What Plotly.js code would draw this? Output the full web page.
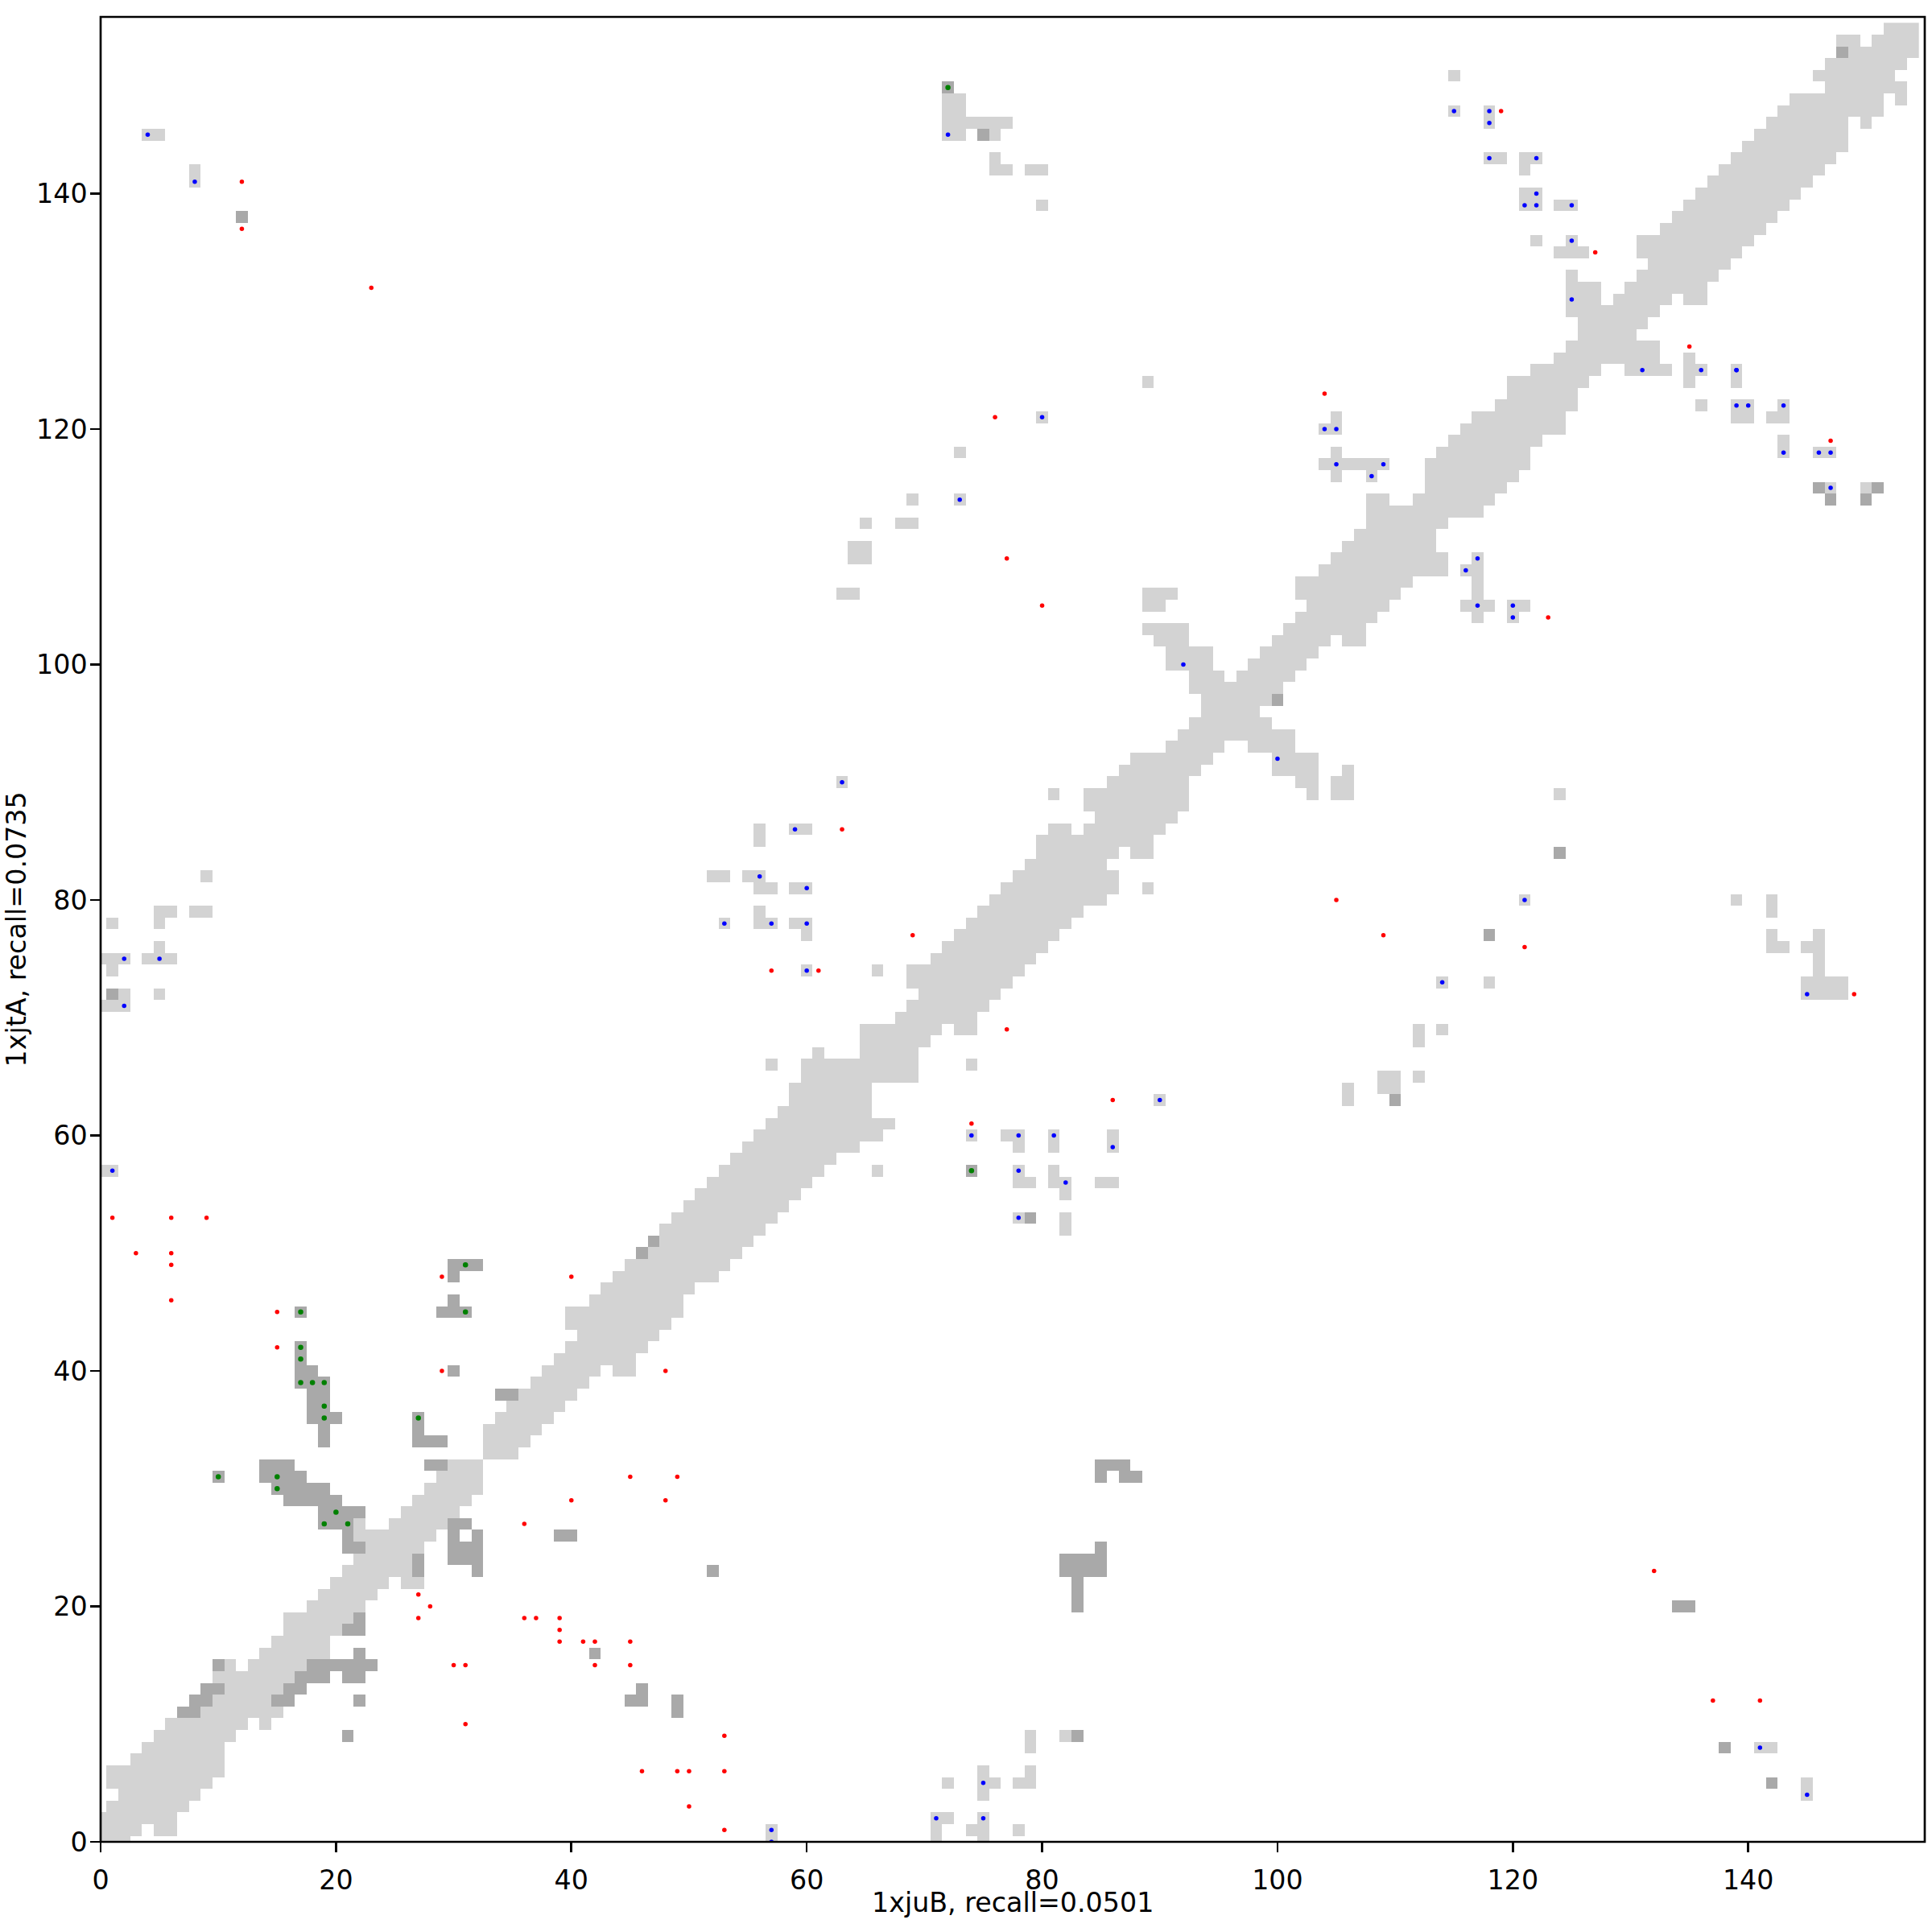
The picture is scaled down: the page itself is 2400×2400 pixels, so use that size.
<!DOCTYPE html>
<html>
<head>
<meta charset="utf-8">
<script src="https://cdn.plot.ly/plotly-3.0.1.min.js"></script>
<style>html,body{margin:0;padding:0;background:#fff}</style>
</head>
<body>
<div id="chart" style="width:2400px;height:2400px"></div>
<script>
const matrixSize = 155;
const xLabel = "1xjuB, recall=0.0501";
const yLabel = "1xjtA, recall=0.0735";
// each row: [residue row, start, end, start, end, ...]
const lightRuns = [
[0,0,2,57,57,71,71,75,75],[1,0,3,5,6,57,57,71,71,74,75,78,78],[2,0,6,71,72,75,75],[3,1,7],[4,2,8,75,75,145,145],
[5,1,9,72,72,75,76,78,79,145,145],[6,1,10,75,75,79,79],[7,3,10],[8,4,10,79,79,141,142],[9,5,11,79,79,82,82],
[10,6,12,14,14],[11,9,15],[12,10,14],[13,11,15],[14,10,16],[15,11,11,13,17],[16,14,19],[17,15,19],[18,16,20],[19,16,21],
[20,18,22],[21,19,23],[22,20,24,26,27],[23,21,26],[24,22,26],[25,23,27],[26,22,28],[27,22,22,25,29],[28,26,30],[29,27,31],
[30,28,32],[31,29,32],[32,30,32],[33,33,35],[34,33,36],[35,33,37],[36,34,38],[37,35,39],[38,36,40],[39,37,41],
[40,38,42,44,45],[41,39,45],[42,40,46],[43,41,47],[44,40,48],[45,40,49],[46,42,49],[47,43,50],[48,44,52],[49,45,53],
[50,47,54],[51,48,55],[52,48,56,82,82],[53,49,57,78,78,82,82],[54,50,58],[55,51,59,82,82],[56,52,60,78,79,81,82,85,86],
[57,0,1,53,61,66,66,78,78,81,81],[58,54,62],[59,55,64,78,78,81,81,86,86],[60,56,66,74,74,77,78,81,81,86,86],[61,57,67],
[62,58,65],[63,59,65,90,90,106,106],[64,59,65,106,106,109,110],[65,60,69,109,110,112,112],[66,57,57,60,69,74,74],
[67,61,61,65,69],[68,65,70,112,112],[69,65,71,73,74,112,112,114,114],[70,68,74],[71,0,2,69,75],
[72,2,2,5,5,70,76,145,148],[73,69,77,114,114,118,118,145,148],[74,1,1,60,60,66,66,69,78,146,146],
[75,0,2,4,6,71,79,146,146],[76,5,5,72,80,142,143,145,146],[77,60,60,73,81,142,142,146,146],
[78,1,1,5,5,53,53,56,57,59,60,74,82],[79,5,6,8,9,56,56,75,83,142,142],[80,76,85,121,121,139,139,142,142],
[81,56,57,59,60,77,86,89,89],[82,9,9,52,53,55,56,78,86],[83,79,85],[84,80,86,88,89],[85,56,56,80,89],
[86,56,56,59,60,81,82,84,90],[87,85,91],[88,84,92],[89,81,81,84,92,103,103,105,106,124,124],
[90,63,63,86,92,102,103,105,106],[91,87,93,100,103,106,106],[92,88,94,100,103],[93,91,95,98,101],[94,92,101],[95,93,99],
[96,94,98],[97,94,99],[98,93,100],[99,93,95,97,101],[100,91,94,98,102],[101,91,94,99,103],[102,90,92,100,104,106,107],
[103,89,92,101,107],[104,102,108,117,117,120,120],[105,89,90,103,109,116,118,120,121],[106,63,64,89,91,102,110,117,117],
[107,102,111,117,117],[108,104,114,116,117],[109,64,65,105,114,117,117],[110,64,65,106,113],[111,107,113],
[112,65,65,68,69,108,114],[113,108,117],[114,69,69,73,73,108,109,112,118],[115,113,119,147,147,150,150],
[116,105,105,108,108,113,120],[117,104,109,113,121],[118,73,73,105,105,114,121,143,143,146,147],[119,115,122,143,143],
[120,104,105,116,124],[121,80,80,105,105,117,124,139,140,142,143],[122,119,125,136,136,139,140,143,143],[123,120,125],
[124,89,89,120,126,135,135,139,139],[125,122,127,130,133,135,136,139,139],[126,124,132,135,135],[127,125,132],[128,126,130],
[129,126,131],[130,125,132],[131,125,127,129,133,135,136],[132,125,127,130,136],[133,125,125,131,137],[134,132,138],
[135,124,126,131,139],[136,122,122,125,125,131,140],[137,133,141],[138,134,142],[139,80,80,121,122,124,125,135,143],
[140,121,122,136,144],[141,8,8,137,145],[142,8,8,76,77,79,80,121,121,138,146],[143,76,76,118,119,121,122,139,147],
[144,140,148],[145,4,5,72,73,76,76,141,148],[146,72,77,118,118,142,148,150,150],[147,72,73,115,115,118,118,143,151],
[148,72,73,144,151,153,153],[149,147,153],[150,115,115,146,152],[151,147,153],[152,149,154],[153,148,149,151,154],[154,152,154]
];
const darkRuns = [
[5,142,142],[8,138,138],[9,21,21,83,83],[11,7,8,49,49],[12,8,9,15,16,22,22,45,46,49,49],[13,9,10,16,17,46,46],
[14,17,19,21,22],[15,10,10,18,23],[16,22,22,42,42],[18,21,22],[19,22,22],[20,83,83,134,135],[21,83,83],[22,83,83],
[23,27,27,32,32,52,52,82,85],[24,27,27,30,32,82,85],[25,21,22,30,32,85,85],[26,21,21,30,30,32,32,39,40],[27,19,21,30,31],
[28,19,22],[29,16,20],[30,15,19],[31,10,10,14,17,85,85,87,88],[32,14,16,28,29,85,87],[34,19,19,27,29],[35,19,19,27,27],
[36,18,20,27,27],[37,18,19],[38,18,19,34,35],[39,17,19],[40,17,18,30,30],[41,17,17],[42,17,17],[45,17,17,29,31],[46,30,30],
[48,30,30],[49,30,32],[50,46,46],[51,47,47],[53,79,79],[57,74,74],[63,110,110],[72,1,1],[77,118,118],[84,124,124],
[97,100,100],[114,147,147,150,150],[115,146,146,151,151],[138,12,12],[145,75,75],[149,72,72],[152,148,148]
];
const redX = [3,6,6,6,15,15,29,40,29,48,45,49,40,48,36,27,28,27,36,37,39,39,39,41,42,45,30,31,42,45,31,46,49,50,50,53,53,53,1,6,9,63,77,74,86,57,61,69,105,109,121,149,76,77,80,104,119,127,135,147,123,12,12,23,132,137,141];
const redY = [50,50,49,46,45,42,48,48,40,40,31,31,29,29,27,21,20,19,19,19,19,18,17,17,17,17,15,15,15,15,10,6,6,6,3,9,6,1,53,53,53,86,69,61,63,74,74,77,80,77,76,72,121,109,105,123,147,135,127,119,104,141,137,132,23,12,12];
const blueX = [63,59,56,60,53,57,60,60,90,74,78,81,86,78,82,78,92,100,2,5,2,1,121,114,145,4,8,72,80,104,105,73,57,57,71,75,75,141,145,131,136,139,115,118,118,118,122,122,121,122,125,125,125,139,140,143,139,143,146,147,147,105,109,108,117,116,117,120,120];
const blueY = [90,86,82,81,78,78,78,74,63,60,60,60,59,57,56,53,100,92,75,75,71,57,80,73,72,145,141,145,121,120,120,114,1,0,2,2,5,8,4,125,125,125,147,147,146,143,143,140,139,139,139,136,131,125,122,122,122,118,118,118,115,117,117,116,109,108,105,105,104];
const greenX = [31,31,17,17,17,17,18,19,19,19,27,10,15,15,20,19,21,74,72];
const greenY = [49,45,45,42,41,39,39,39,37,36,36,31,31,30,28,27,27,57,149];
const tickValues = [0,20,40,60,80,100,120,140];

const indices = Array.from({length: matrixSize}, (_, i) => i);
const z = indices.map(() => indices.map(() => null));
function paint(runs, value) {
  runs.forEach(r => {
    for (let k = 1; k < r.length; k += 2) {
      for (let c = r[k]; c <= r[k + 1]; c++) z[r[0]][c] = value;
    }
  });
}
paint(lightRuns, 1);
paint(darkRuns, 2);

const dots = (x, y, color, size) => ({
  type: 'scatter', mode: 'markers', x, y, hoverinfo: 'skip', showlegend: false,
  marker: {color, size, symbol: 'circle', line: {width: 0}}
});
const traces = [
  {type: 'heatmap', x: indices, y: indices, z, zmin: 1, zmax: 2, showscale: false, hoverinfo: 'skip',
   colorscale: [[0, '#d3d3d3'], [1, '#a9a9a9']]},
  dots(redX, redY, '#ff0000', 5.5),
  dots(blueX, blueY, '#0000ff', 5.5),
  dots(greenX, greenY, '#008000', 6.5)
];
const font = {family: 'DejaVu Sans', size: 33.3, color: '#000'};
const axis = (labelGap) => ({
  range: [0, matrixSize], tickmode: 'array', tickvals: tickValues, ticktext: tickValues.map(String),
  showgrid: false, zeroline: false, showline: false,
  ticks: 'outside', ticklen: 11.7, tickwidth: 2.67, tickcolor: '#000', tickfont: font, ticklabelstandoff: labelGap,
  automargin: false
});
Plotly.newPlot('chart', traces, {
  width: 2400, height: 2400, paper_bgcolor: '#fff', plot_bgcolor: '#fff', showlegend: false,
  margin: {l: 125, r: 9, t: 21, b: 112, pad: 0},
  xaxis: axis(6),
  yaxis: axis(-3),
  annotations: [
    {xref: 'paper', yref: 'paper', x: 0.5, y: 0, yshift: -75, yanchor: 'middle', xanchor: 'center',
     showarrow: false, text: xLabel, font},
    {xref: 'paper', yref: 'paper', x: 0, y: 0.5, xshift: -105, yanchor: 'middle', xanchor: 'center',
     textangle: -90, showarrow: false, text: yLabel, font}
  ],
  shapes: [{type: 'rect', xref: 'paper', yref: 'paper', x0: 0, x1: 1, y0: 0, y1: 1, layer: 'above',
            line: {color: '#000', width: 2.67}, fillcolor: 'rgba(0,0,0,0)'}]
}, {displayModeBar: false, staticPlot: true});
</script>
</body>
</html>
